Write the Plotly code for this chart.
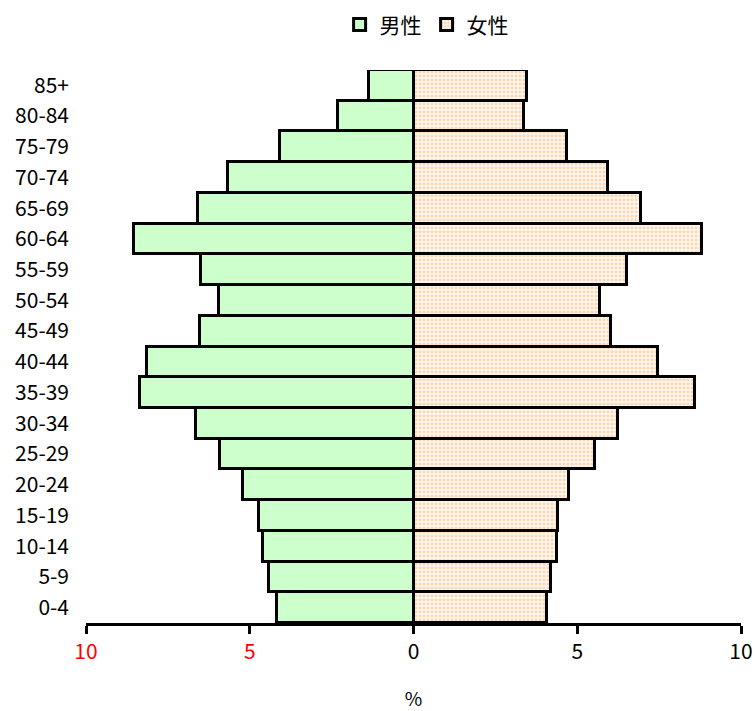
import plotly.graph_objects as go

ages = ["0-4", "5-9", "10-14", "15-19", "20-24", "25-29", "30-34", "35-39", "40-44",
        "45-49", "50-54", "55-59", "60-64", "65-69", "70-74", "75-79", "80-84", "85+"]
male = [4.16, 4.40, 4.59, 4.71, 5.20, 5.90, 6.63, 8.35, 8.13,
        6.51, 5.93, 6.48, 8.53, 6.57, 5.66, 4.07, 2.30, 1.35]
female = [4.09, 4.21, 4.39, 4.42, 4.76, 5.55, 6.25, 8.60, 7.47,
          6.04, 5.68, 6.53, 8.82, 6.96, 5.93, 4.70, 3.36, 3.48]
tick_vals = [-10, -5, 0, 5, 10]
tick_text = ["<span style='color:#ff0000'>10</span>", "<span style='color:#ff0000'>5</span>", "0", "5", "10"]

FONT = "Noto Sans CJK JP"

fig = go.Figure()
fig.add_trace(go.Bar(
    y=ages, x=[-v for v in male], orientation="h", name="男性",
    marker=dict(color="#ccffcc", line=dict(color="black", width=3)),
))
fig.add_trace(go.Bar(
    y=ages, x=female, orientation="h", name="女性",
    marker=dict(color="#ffffff", line=dict(color="black", width=3),
                pattern=dict(shape=".", fgcolor="#ffb070", bgcolor="#fff8f0", size=4, solidity=0.4)),
))

fig.update_layout(
    width=755, height=711,
    barmode="relative", bargap=0,
    plot_bgcolor="white", paper_bgcolor="white",
    margin=dict(l=86, r=14, t=70, b=88, autoexpand=False),
    font=dict(family=FONT, size=21, color="black"),
    legend=dict(orientation="h", x=0.52, xanchor="center", yref="container", y=0.965, yanchor="middle",
                font=dict(size=21), itemwidth=30, traceorder="normal"),
    showlegend=True,
)
fig.update_xaxes(
    range=[-10, 10], tickvals=tick_vals, ticktext=tick_text,
    showline=True, linecolor="black", linewidth=3,
    ticks="outside", ticklen=8, tickwidth=3, tickcolor="black",
    showgrid=False, zeroline=False, automargin=False,
    title=dict(text="%", font=dict(size=19), standoff=32),
    tickfont=dict(size=21),
)
fig.update_yaxes(
    showline=False, showgrid=False, zeroline=False, ticks="", automargin=False,
    tickfont=dict(size=21), ticklabelstandoff=16,
)

fig.write_html("out.html", config={"displayModeBar": False},
               post_script="document.body.style.margin='0';document.body.style.overflow='hidden';")
